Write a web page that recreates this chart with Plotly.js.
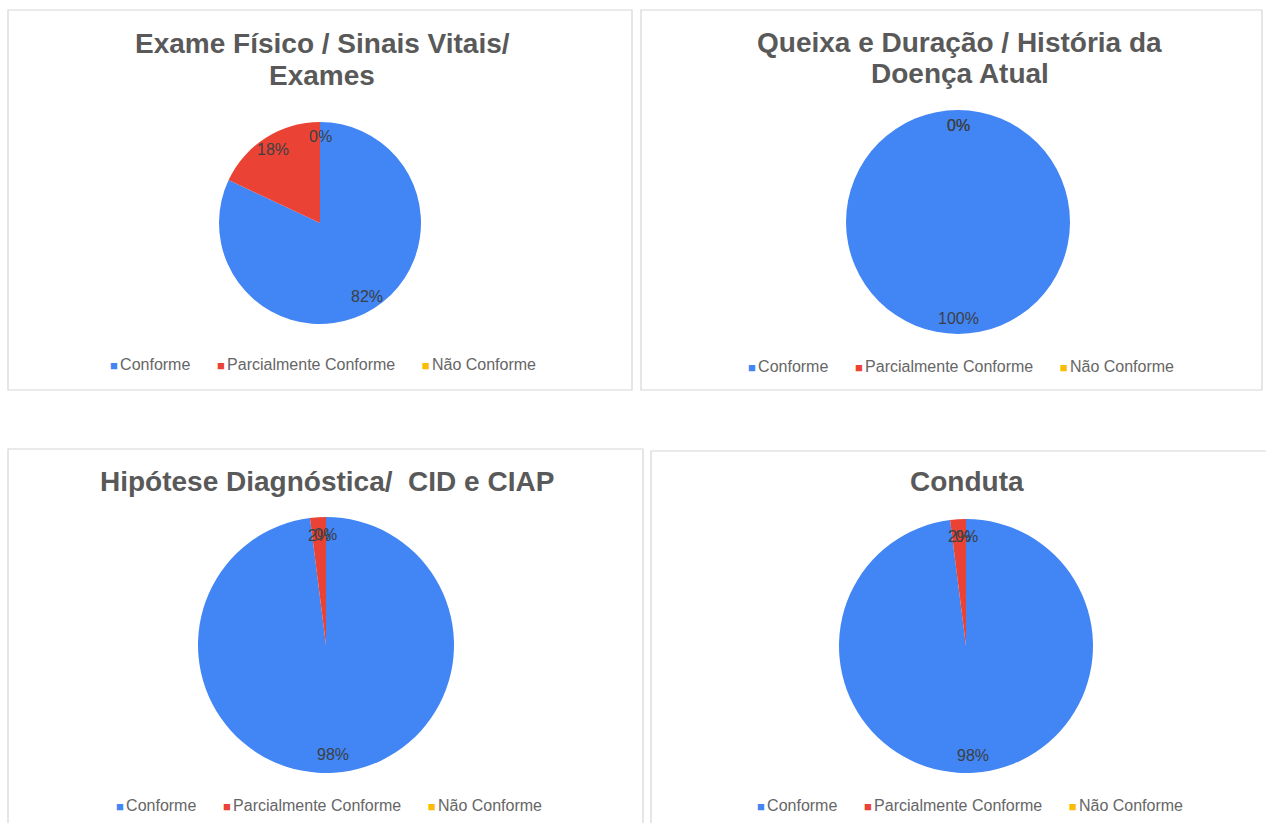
<!DOCTYPE html>
<html>
<head>
<meta charset="utf-8">
<script src="https://cdn.plot.ly/plotly-3.0.1.min.js"></script>
<style>html,body{margin:0;padding:0;background:#fff;}#chart{width:1266px;height:823px;}</style>
</head>
<body>
<div id="chart"></div>
<script>
// ---- data ----
const categories = ["Conforme", "Parcialmente Conforme", "Não Conforme"];
const titleLines = [
  ["Exame Físico / Sinais Vitais/", "Exames"],
  ["Queixa e Duração / História da", "Doença Atual"],
  ["Hipótese Diagnóstica/  CID e CIAP"],
  ["Conduta"]
];
const exameFisico = [82, 18, 0];
const queixaDuracao = [100, 0, 0];
const hipoteseDiagnostica = [98, 2, 0];
const conduta = [98, 2, 0];
const seriesList = [exameFisico, queixaDuracao, hipoteseDiagnostica, conduta];

// ---- layout constants ----
const W = 1266, H = 823;
const colors = ["#4285f4", "#ea4335", "#fbbc04"];
const FONT = "Liberation Sans, Arial, sans-serif";
const panels = [
  {box: [8, 10, 632, 390], cx: 320, cy: 223, r: 101, tx: 322, titleY: [43, 75], legY: 364, legX: 323},
  {box: [641, 10, 1262, 390], cx: 958, cy: 222, r: 112, tx: 960, titleY: [42, 73], legY: 366, legX: 961},
  {box: [8, 449, 643, 830], cx: 326, cy: 645, r: 128, tx: 327, titleY: [481], legY: 805, legX: 329},
  {box: [651, 451, 1270, 830], cx: 966, cy: 646, r: 127, tx: 967, titleY: [482], legY: 805, legX: 970}
];
const px = x => x / W;
const py = y => (H - y) / H;

const data = [];
const annotations = [];
const shapes = [];
const layout = {
  width: W, height: H,
  margin: {l: 0, r: 0, t: 0, b: 0},
  paper_bgcolor: "#ffffff",
  showlegend: false,
  font: {family: FONT}
};

// legend text built from categories + colours
const nb = n => "&nbsp;".repeat(n);
const legendText = categories.map((c, j) =>
  '<span style="color:' + colors[j] + ';font-size:13px">■</span>' +
  '<span style="font-size:8px">&nbsp;</span>' + c
).join(nb(6));

panels.forEach((p, i) => {
  const vals = seriesList[i];
  data.push({
    type: "pie",
    labels: categories,
    values: vals,
    sort: false,
    direction: "clockwise",
    rotation: 0,
    textinfo: "none",
    hoverinfo: "label+percent",
    marker: {colors: colors, line: {width: 0}},
    domain: {x: [px(p.cx - p.r), px(p.cx + p.r)], y: [py(p.cy + p.r), py(p.cy - p.r)]},
    showlegend: false
  });
  // panel border
  shapes.push({type: "rect", xref: "paper", yref: "paper",
    x0: px(p.box[0]), x1: px(p.box[2]), y0: py(p.box[3]), y1: py(p.box[1]),
    line: {color: "#d6d6d6", width: 1.2}, fillcolor: "rgba(0,0,0,0)", layer: "below"});
  // title lines
  titleLines[i].forEach((t, k) => {
    annotations.push({xref: "paper", yref: "paper", x: px(p.tx), y: py(p.titleY[k]),
      xanchor: "center", yanchor: "middle", showarrow: false,
      text: "<b>" + t.replace(/  /g, " &nbsp;") + "</b>",
      font: {size: 28, color: "#595959", family: FONT}});
  });
  // legend
  annotations.push({xref: "paper", yref: "paper", x: px(p.legX), y: py(p.legY),
    xanchor: "center", yanchor: "middle", showarrow: false, text: legendText,
    font: {size: 16, color: "#666666", family: FONT}});
  // percentage labels placed at slice mid-angles
  const total = vals.reduce((a, b) => a + b, 0);
  let cum = 0;
  vals.forEach((v, j) => {
    const mid = (cum + v / 2) / total;
    cum += v;
    const ang = mid * 2 * Math.PI;
    const k = 0.86;
    const x = p.cx + k * p.r * Math.sin(ang);
    const y = p.cy - k * p.r * Math.cos(ang);
    annotations.push({xref: "paper", yref: "paper", x: px(x), y: py(y),
      xanchor: "center", yanchor: "middle", showarrow: false,
      text: Math.round(v / total * 100) + "%",
      font: {size: 16, color: "#3c4043", family: FONT}});
  });
});
layout.annotations = annotations;
layout.shapes = shapes;

Plotly.newPlot("chart", data, layout, {displayModeBar: false, staticPlot: true});
</script>
</body>
</html>
